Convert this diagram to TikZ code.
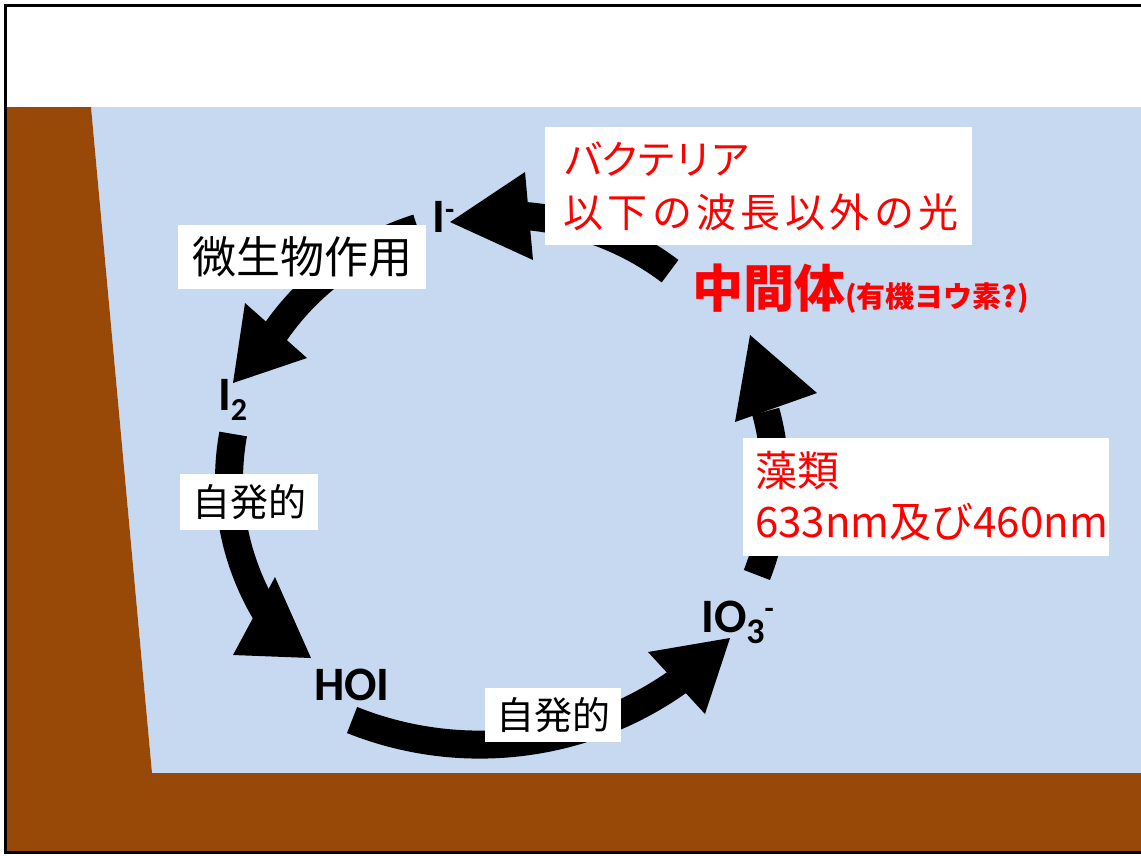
\documentclass[tikz,border=0pt]{standalone}
\usepackage{fontspec}
\setmainfont{Carlito}
\newfontfamily\jpfont{Noto Sans CJK JP}
\definecolor{water}{HTML}{C6D9F1}
\definecolor{soil}{HTML}{984807}
\definecolor{note}{HTML}{FF0000}
\tikzset{
  shaft/.style={line width=28pt, black, line cap=butt},
  tip/.style={fill=black},
  label/.style={fill=white, inner sep=0pt, font=\jpfont},
  chem/.style={inner sep=0pt, anchor=base west, font=\bfseries\fontsize{48}{48}\selectfont},
  redtext/.style={inner sep=0pt, text=note, font=\jpfont\fontsize{40}{40}\selectfont},
}
\begin{document}
\begin{tikzpicture}[x=1pt, y=-1pt]
\useasboundingbox (0,0) rectangle (1141,855);
% water body and soil
\fill[water] (91,107) -- (1141,107) -- (1141,773) -- (152,773) -- cycle;
\fill[soil] (5,107) -- (91,107) -- (152,773) -- (1141,773) -- (1141,852) -- (5,852) -- cycle;
% slide frame
\draw[line width=3pt] (1145,5) -- (5,5) -- (5,852.5) -- (1145,852.5);

% cycle arrows, mostly along an ellipse centred at (502,480)
\coordinate (ctr) at (502,480);
% I- <- intermediate
\draw[shaft] plot[domain=-52:-86, samples=40] ({502+273*cos(\x)},{480+265*sin(\x)});
\coordinate (tipA) at (450,222);
\fill[tip] (tipA) -- (525,172) -- (533,260) -- cycle;
% I- -> I2
\draw[shaft] plot[domain=-108:-147, samples=40] ({502+273*cos(\x)},{480+265*sin(\x)});
\coordinate (tipB) at (233,383);
\fill[tip] (tipB) -- (245,303) -- (307,358) -- cycle;
% I2 -> HOI
\draw[shaft] plot[domain=-170:-211, samples=40] ({502+273*cos(\x)},{480+265*sin(\x)});
\coordinate (tipC) at (311,658);
\fill[tip] (tipC) -- (275,577) -- (233,655) -- cycle;
% HOI -> IO3- (flatter arc below HOI)
\draw[shaft] plot[domain=111.8:53.5, samples=60] ({479.7+343.7*cos(\x)},{400.9+343.7*sin(\x)});
\coordinate (tipD) at (730,638);
\fill[tip] (tipD) -- (648,652) -- (705,714) -- cycle;
% IO3- -> intermediate
\draw[shaft] plot[domain=21:-15, samples=40] ({502+273*cos(\x)},{480+265*sin(\x)});
\coordinate (tipE) at (750,335);
\fill[tip] (tipE) -- (735,422) -- (817,393) -- cycle;

% white label boxes
\node[label, minimum width=248pt, minimum height=64pt, font=\jpfont\fontsize{44}{44}\selectfont] (bio) at (302,257) {微生物作用};
\node[label, minimum width=138pt, minimum height=56pt, font=\jpfont\fontsize{38}{38}\selectfont] (spont1) at (249,502) {自発的};
\node[label, minimum width=136pt, minimum height=54pt, font=\jpfont\fontsize{38}{38}\selectfont] (spont2) at (553,715) {自発的};
\node[label, anchor=north west, minimum width=427pt, minimum height=118pt] (bactbox) at (545,127) {};
\node[label, anchor=north west, minimum width=366pt, minimum height=118pt] (algabox) at (743,438) {};

% red notes
\node[redtext, anchor=west] (bact1) at (563,159) {\addfontfeatures{LetterSpace=-8}バクテリア};
\node[redtext, anchor=west] (bact2) at (563,212) {\addfontfeatures{LetterSpace=11}以下の波長以外の光};
\node[redtext, anchor=west, font=\jpfont\fontsize{42}{42}\selectfont] (alga1) at (755,471) {藻類};
\node[redtext, anchor=base west, font=\jpfont\fontsize{42}{42}\selectfont] (alga2) at (755,537) {633nm及び460nm};
\node[redtext, anchor=base west, font=\jpfont\bfseries] (inter) at (692,307)
  {{\fontsize{51}{51}\selectfont 中間体}{\fontsize{29}{29}\selectfont (有機ヨウ素?)}};

% iodine species
\node[chem] (iodide) at (432,232) {I\raisebox{13pt}{\fontsize{30}{30}\selectfont -}};
\node[chem] (iodine) at (218,410) {I\raisebox{-10pt}{\fontsize{32}{32}\selectfont 2}};
\node[chem] (hoi) at (314,700) {HOI};
\node[chem] (iodate) at (701,632) {IO\raisebox{-11pt}{\fontsize{36}{36}\selectfont 3}\raisebox{14pt}{\fontsize{30}{30}\selectfont -}};
\end{tikzpicture}
\end{document}
